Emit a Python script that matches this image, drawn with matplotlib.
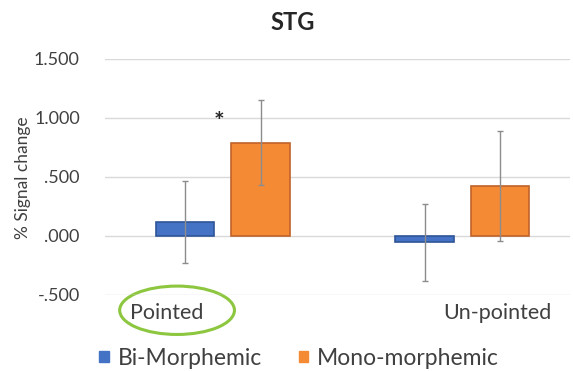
import numpy as np
import matplotlib.pyplot as plt
from matplotlib.patches import Ellipse

categories = ['Pointed', 'Un-pointed']
series = ['Bi-Morphemic', 'Mono-morphemic']
bi_vals = [0.12, -0.055]
bi_err = [0.35, 0.33]
mono_vals = [0.79, 0.425]
mono_err = [0.36, 0.465]
yticks = [-0.5, 0.0, 0.5, 1.0, 1.5]
ytick_labels = ['-.500', '.000', '.500', '1.000', '1.500']

plt.rcParams['font.family'] = ['Lato', 'DejaVu Sans']

fig = plt.figure(figsize=(5.73, 3.71), dpi=100)
ax = fig.add_axes([0.183, 0.205, 0.812, 0.636])

x = np.arange(len(categories))
w = 0.243
off = 0.157
ax.bar(x - off, bi_vals, w, color='#4472C4', edgecolor='#2F5597', linewidth=1.2, zorder=3)
ax.bar(x + off, mono_vals, w, color='#F58A35', edgecolor='#C0622A', linewidth=1.2, zorder=3)
ax.errorbar(x - off, bi_vals, yerr=bi_err, fmt='none', ecolor='#8c8c8c', elinewidth=1, capsize=2, zorder=4)
ax.errorbar(x + off, mono_vals, yerr=mono_err, fmt='none', ecolor='#8c8c8c', elinewidth=1, capsize=2, zorder=4)

ax.set_xlim(-0.494, 1.452)
ax.set_ylim(-0.5, 1.5)
ax.set_yticks(yticks)
ax.set_yticklabels(ytick_labels, fontsize=13, color='#404040')
ax.grid(axis='y', color='#d9d9d9', linewidth=1, zorder=0)
ax.set_xticks([])
for s in ax.spines.values():
    s.set_visible(False)
ax.tick_params(axis='y', length=0, pad=18)

fig.text(0.04, 0.52, '% Signal change', rotation=90, ha='center', va='center', fontsize=12.5, color='#404040')
fig.text(0.51, 0.94, 'STG', ha='center', va='center', fontsize=17, fontweight='bold', color='#262626')

# category labels sit left of the group centres, as in the source
lab_x = [-0.234, 1.146]
for lx, c in zip(lab_x, categories):
    ax.text(lx, -0.65, c, ha='center', va='center', fontsize=15.5, color='#404040', clip_on=False)

ax.text(-0.017, 0.96, '*', ha='center', va='center', fontsize=18, fontweight='bold', color='#262626')

ell = Ellipse((-0.192, -0.63), 0.48, 0.41, fill=False, edgecolor='#8DC63F', linewidth=2.2, clip_on=False)
ax.add_patch(ell)

h1 = plt.Rectangle((0, 0), 1, 1, color='#4472C4')
h2 = plt.Rectangle((0, 0), 1, 1, color='#F58A35')
fig.legend([h1, h2], series, loc='center', bbox_to_anchor=(0.522, 0.035), ncol=2, frameon=False,
           fontsize=16.5, handlelength=0.4, handleheight=0.4, handletextpad=0.4, columnspacing=1.6,
           labelcolor='#404040')

fig.savefig('out.png', dpi=100)
